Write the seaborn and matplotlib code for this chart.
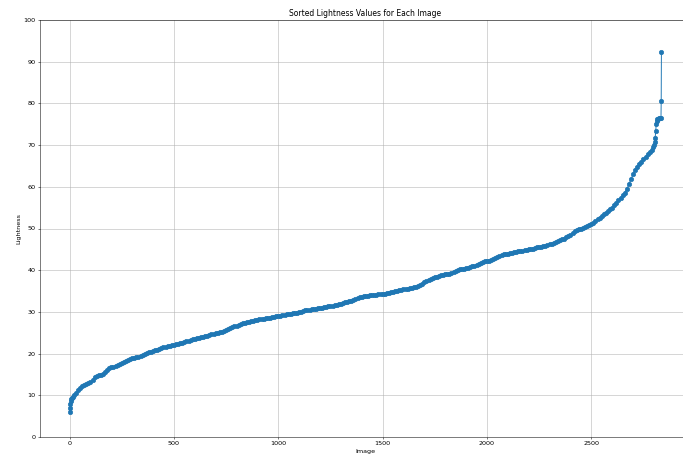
import numpy as np
import pandas as pd
import seaborn as sns
import matplotlib.pyplot as plt

# image index (sorted order): dense start, every 10 images in the body, the sparse tail
image_idx = ([0, 2, 4, 6, 8, 10, 14]
             + list(range(20, 2790, 10))
             + [2790, 2796, 2800, 2803, 2806, 2809, 2811, 2813, 2815, 2820, 2825, 2830, 2834, 2835, 2836])

# lightness
lightness_start = [6.1, 6.9, 7.9, 8.6, 9.0, 9.3, 9.7]
lightness_body = [
    10.1, 10.6, 11.2, 11.7, 12.2, 12.5, 12.7, 13.0,                  # 20-90
    13.3, 13.6, 14.4, 14.6, 14.8, 14.9, 15.2, 15.6, 16.1, 16.6,      # 100-190
    16.8, 16.9, 17.1, 17.3, 17.5, 17.8, 18.1, 18.3, 18.5, 18.7,      # 200-290
    18.9, 19.0, 19.1, 19.3, 19.5, 19.7, 19.9, 20.1, 20.3, 20.5,      # 300-390
    20.6, 20.8, 20.9, 21.2, 21.4, 21.5, 21.6, 21.8, 21.9, 22.0,      # 400-490
    22.0, 22.2, 22.3, 22.5, 22.6, 22.8, 23.0, 23.1, 23.3, 23.5,      # 500-590
    23.6, 23.7, 23.8, 23.9, 24.0, 24.2, 24.3, 24.5, 24.6, 24.8,      # 600-690
    24.9, 25.0, 25.1, 25.2, 25.4, 25.6, 25.9, 26.2, 26.4, 26.6,      # 700-790
    26.7, 26.9, 27.1, 27.3, 27.4, 27.5, 27.6, 27.8, 27.9, 28.0,      # 800-890
    28.1, 28.2, 28.3, 28.4, 28.5, 28.5, 28.6, 28.7, 28.8, 28.9,      # 900-990
    29.0, 29.1, 29.2, 29.3, 29.4, 29.5, 29.6, 29.7, 29.8, 29.8,      # 1000-1090
    29.9, 30.0, 30.2, 30.4, 30.5, 30.5, 30.6, 30.7, 30.8, 30.9,      # 1100-1190
    31.0, 31.0, 31.1, 31.2, 31.3, 31.4, 31.5, 31.6, 31.7, 31.8,      # 1200-1290
    32.0, 32.1, 32.3, 32.4, 32.6, 32.7, 32.9, 33.1, 33.3, 33.5,      # 1300-1390
    33.6, 33.7, 33.8, 33.9, 34.0, 34.0, 34.1, 34.1, 34.2, 34.3,      # 1400-1490
    34.4, 34.4, 34.5, 34.6, 34.7, 34.8, 34.9, 35.1, 35.2, 35.3,      # 1500-1590
    35.4, 35.5, 35.6, 35.7, 35.8, 35.9, 36.0, 36.2, 36.5, 36.8,      # 1600-1690
    37.2, 37.5, 37.7, 37.9, 38.1, 38.3, 38.4, 38.6, 38.8, 38.9,      # 1700-1790
    39.0, 39.1, 39.2, 39.4, 39.6, 39.8, 40.0, 40.2, 40.3, 40.4,      # 1800-1890
    40.5, 40.6, 40.8, 40.9, 41.1, 41.3, 41.6, 41.8, 42.0, 42.1,      # 1900-1990
    42.2, 42.3, 42.5, 42.7, 42.9, 43.2, 43.4, 43.6, 43.8, 43.9,      # 2000-2090
    44.0, 44.1, 44.2, 44.3, 44.4, 44.5, 44.6, 44.7, 44.8, 44.9,      # 2100-2190
    45.0, 45.1, 45.2, 45.4, 45.5, 45.5, 45.6, 45.7, 45.8, 46.0,      # 2200-2290
    46.2, 46.4, 46.6, 46.8, 47.0, 47.2, 47.4, 47.6, 47.9, 48.2,      # 2300-2390
    48.5, 48.9, 49.3, 49.6, 49.8, 50.0, 50.2, 50.4, 50.7, 50.9,      # 2400-2490
    51.1, 51.4, 51.8, 52.2, 52.6, 53.0, 53.4, 53.8, 54.2, 54.6,      # 2500-2590
    55.0, 55.6, 56.2, 56.8, 57.4, 58.0, 58.6, 59.4, 60.6, 61.8,      # 2600-2690
    63.0, 64.1, 64.8, 65.4, 66.0, 66.6, 67.2, 67.8, 68.3,            # 2700-2780
]
lightness_tail = [68.8, 69.5, 70.0, 70.8, 71.8, 73.4, 75.0, 75.8, 76.2, 76.3, 76.4, 76.5, 76.6, 80.6, 92.4]

df = pd.DataFrame({'image': image_idx,
                   'lightness': lightness_start + lightness_body + lightness_tail})

fig = plt.figure(figsize=(15, 454 / (683 / 15)), dpi=683 / 15)
ax = fig.add_axes([40 / 683, 17 / 454, 651 / 683, 417 / 454])

sns.lineplot(data=df, x='image', y='lightness', marker='o', markersize=7,
             markeredgecolor='#1f77b4', markeredgewidth=1, color='#1f77b4',
             linewidth=1.5, ax=ax)

ax.set_ylim(0, 100)
ax.set_yticks(np.arange(0, 101, 10))
ax.set_xticks([0, 500, 1000, 1500, 2000, 2500])
ax.grid(True)
ax.set(xlabel='Image', ylabel='Lightness', title='Sorted Lightness Values for Each Image')

plt.savefig('out.png', dpi=683 / 15)
